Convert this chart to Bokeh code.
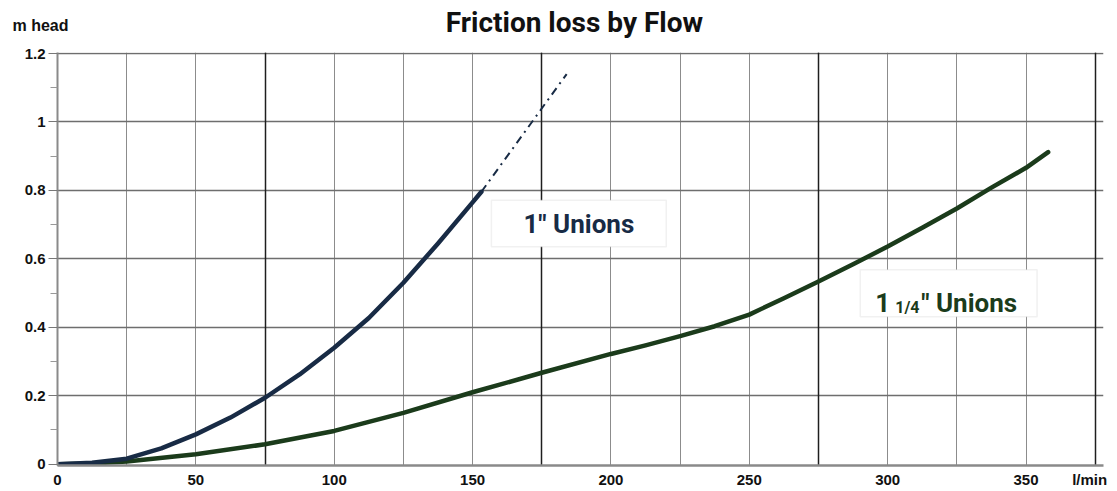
from bokeh.plotting import figure
from bokeh.layouts import column
from bokeh.models import (FixedTicker, Grid, Label, BoxAnnotation, Range1d,
                          CustomJSTickFormatter)
from bokeh.embed import file_html
from bokeh.resources import INLINE

# ---- data ----
flow_1in = [0, 12.5, 25, 37.5, 50, 62.5, 75, 87.5, 100, 112.5, 125, 137.5, 150, 153.2]
head_1in = [0, 0.004, 0.016, 0.046, 0.087, 0.136, 0.194, 0.262, 0.34, 0.427, 0.53, 0.645, 0.765, 0.796]

flow_1in_ext = [153.2, 184]
head_1in_ext = [0.796, 1.14]

flow_114 = [0, 12.5, 25, 50, 75, 100, 125, 150, 175, 200, 212.5, 225, 237.5, 250, 262.5,
            275, 287.5, 300, 312.5, 325, 337.5, 350, 358]
head_114 = [0, 0.002, 0.008, 0.029, 0.058, 0.097, 0.15, 0.21, 0.267, 0.322, 0.347, 0.374,
            0.403, 0.437, 0.485, 0.534, 0.584, 0.636, 0.691, 0.747, 0.808, 0.866, 0.912]

x_tick_values = [0, 50, 100, 150, 200, 250, 300, 350]
x_unit_tick = 373
x_grid_values = [25, 50, 75, 100, 125, 150, 175, 200, 225, 250, 275, 300, 325, 350, 375]
x_dark_grid_values = [75, 175, 275, 375]
y_tick_values = [0, 0.2, 0.4, 0.6, 0.8, 1.0, 1.2]
y_minor_values = [0.1, 0.3, 0.5, 0.7, 0.9, 1.1]

title_text = "Friction loss by Flow"
y_label_text = "m head"
x_label_text = "l/min"
series_1in_text = '1" Unions'
series_114_parts = ["1", "1/4", '" Unions']

BLUE = "#182b45"
GREEN = "#1b3b1b"
BOLD_FONT = "Roboto"
TICK_FONT = "Liberation Sans"

W = 1109
LEFT = 57
RIGHT = 6

# ---- header strip (title and y caption) ----
head = figure(width=W, height=44, output_backend="svg", toolbar_location=None,
              x_range=Range1d(0, 378), y_range=Range1d(0, 44), x_axis_type=None,
              min_border_left=LEFT, min_border_right=RIGHT, min_border_top=0,
              min_border_bottom=0)
head.outline_line_color = None
head.grid.visible = False
head.yaxis.ticker = FixedTicker(ticks=[19])
head.yaxis.major_label_overrides = {19: y_label_text}
head.yaxis.axis_line_color = None
head.yaxis.major_tick_line_color = None
head.yaxis.minor_tick_line_color = None
head.yaxis.major_tick_out = 0
head.yaxis.minor_tick_out = 0
head.yaxis.major_label_standoff = -11
head.yaxis.major_label_text_font = TICK_FONT
head.yaxis.major_label_text_font_style = "bold"
head.yaxis.major_label_text_font_size = "16px"
head.yaxis.major_label_text_color = "#111111"
head.add_layout(Label(x=186.8, y=22, text=title_text, text_align="center",
                      text_baseline="middle", text_font=BOLD_FONT, text_font_style="bold",
                      text_font_size="28px", text_color="#111111"))

# ---- main chart ----
p = figure(width=W, height=446, output_backend="svg", toolbar_location=None,
           x_range=Range1d(0, 378), y_range=Range1d(-0.004, 1.203),
           min_border_left=LEFT, min_border_right=RIGHT, min_border_top=8,
           min_border_bottom=24)
p.outline_line_color = None

p.xaxis.ticker = FixedTicker(ticks=x_tick_values + [x_unit_tick])
p.xaxis.major_label_overrides = {x_unit_tick: x_label_text}
p.xaxis.major_tick_out = 0
p.xaxis.major_tick_in = 0
p.xaxis.minor_tick_out = 0
p.xaxis.minor_tick_in = 0
p.xaxis.axis_line_color = "#8a8a8a"
p.xaxis.axis_line_width = 2.5
p.xaxis.major_label_standoff = 5
p.xaxis.major_label_text_font = TICK_FONT
p.xaxis.major_label_text_font_style = "bold"
p.xaxis.major_label_text_font_size = "15px"
p.xaxis.major_label_text_color = "#111111"

p.yaxis.ticker = FixedTicker(ticks=y_tick_values, minor_ticks=y_minor_values)
p.yaxis.formatter = CustomJSTickFormatter(code="return (Math.round(tick*10)/10).toString();")
p.yaxis.major_tick_out = 9
p.yaxis.major_tick_in = 0
p.yaxis.minor_tick_out = 7
p.yaxis.minor_tick_in = 0
p.yaxis.major_tick_line_color = "#777777"
p.yaxis.minor_tick_line_color = "#999999"
p.yaxis.axis_line_color = "#8a8a8a"
p.yaxis.axis_line_width = 2
p.yaxis.major_label_standoff = 3
p.yaxis.major_label_text_font = TICK_FONT
p.yaxis.major_label_text_font_style = "bold"
p.yaxis.major_label_text_font_size = "15px"
p.yaxis.major_label_text_color = "#111111"

p.xgrid.ticker = FixedTicker(ticks=x_grid_values)
p.xgrid.grid_line_color = "#8c8c8c"
p.xgrid.grid_line_width = 1
p.ygrid.ticker = FixedTicker(ticks=y_tick_values[1:])
p.ygrid.grid_line_color = "#6e6e6e"
p.ygrid.grid_line_width = 1.3
p.add_layout(Grid(dimension=0, ticker=FixedTicker(ticks=x_dark_grid_values),
                  grid_line_color="#1e1e1e", grid_line_width=1.5))

p.line(flow_114, head_114, line_color=GREEN, line_width=4.5, line_cap="round", line_join="round")
p.line(flow_1in, head_1in, line_color=BLUE, line_width=4.5, line_cap="round", line_join="round")
p.line(flow_1in_ext, head_1in_ext, line_color=BLUE, line_width=2, line_dash="8 5 2 5")

p.add_layout(BoxAnnotation(left=156.8, right=220, bottom=0.635, top=0.771,
                           fill_color="white", fill_alpha=1,
                           line_color="#d0d0d0", line_width=1.5))
p.add_layout(Label(x=188.4, y=0.703, text=series_1in_text, text_align="center",
                   text_baseline="middle", text_font=BOLD_FONT, text_font_style="bold",
                   text_font_size="26px", text_color=BLUE))

p.add_layout(BoxAnnotation(left=290.1, right=354, bottom=0.431, top=0.568,
                           fill_color="white", fill_alpha=1,
                           line_color="#d0d0d0", line_width=1.5))
for txt, dx, dy, size in zip(series_114_parts, [0, 20, 46], [0, -5, 0],
                             ["26px", "16px", "26px"]):
    p.add_layout(Label(x=295.5, y=0.472, x_offset=dx, y_offset=dy, text=txt,
                       text_align="left", text_baseline="alphabetic", text_font=BOLD_FONT,
                       text_font_style="bold", text_font_size=size, text_color=GREEN))

open("out.html", "w").write(file_html(column(head, p), INLINE))
